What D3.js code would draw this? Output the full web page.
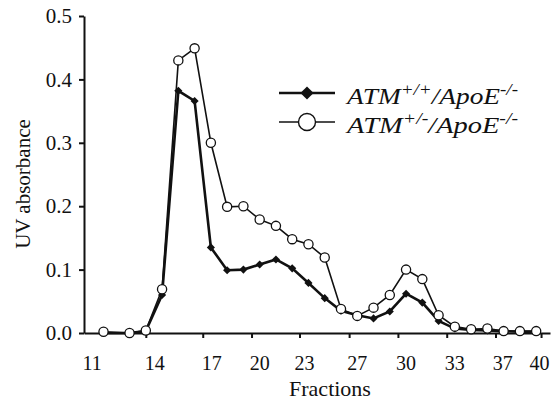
<!DOCTYPE html>
<html>
<head>
<meta charset="utf-8">
<script src="https://cdn.jsdelivr.net/npm/d3@7"></script>
<style>
  body { margin: 0; background: #fff; }
  svg text { font-family: "Times New Roman", "Liberation Serif", Times, serif; fill: #111; }
</style>
</head>
<body>
<div id="chart"></div>
<script>
// fraction numbers for each measured point
const fractions = [11.4, 13, 14, 15, 16, 17, 18, 19, 20, 21, 22, 23, 24, 25, 26,
                   27, 28, 29, 30, 31, 32, 33, 34, 35, 36, 37, 38];

// ATM+/+/ApoE-/- (filled diamonds)
const wildType = [0.0, 0.0, 0.003, 0.06, 0.382, 0.366, 0.135, 0.099, 0.100, 0.108, 0.116,
                  0.102, 0.079, 0.055, 0.035, 0.028, 0.023, 0.034, 0.062, 0.048, 0.019,
                  0.007, 0.005, 0.004, 0.003, 0.002, 0.002];

// ATM+/-/ApoE-/- (open circles)
const hetero = [0.002, 0.0, 0.004, 0.069, 0.43, 0.449, 0.300, 0.199, 0.200, 0.179, 0.169,
                0.148, 0.140, 0.119, 0.038, 0.027, 0.040, 0.060, 0.100, 0.085, 0.028,
                0.010, 0.006, 0.007, 0.003, 0.003, 0.003];

// x tick marks (in fraction units) and the printed labels
const xTickAt = [14, 17.5, 20.5, 23.45, 26.5, 29.5, 32.5, 35.5, 38.3];
const xLabels = ["11", "14", "17", "20", "23", "27", "30", "33", "37", "40"];
const xLabelAt = [10.7, 14.55, 18.05, 21.0, 23.75, 27.0, 30.0, 33.0, 35.95, 38.2];

const yTicks = [0, 0.1, 0.2, 0.3, 0.4, 0.5];

const W = 555, H = 401;
const svg = d3.select("#chart").append("svg")
    .attr("width", W).attr("height", H);

const x = d3.scaleLinear().domain([10.2, 38.85]).range([84, 550]);
const y = d3.scaleLinear().domain([0, 0.5]).range([333, 16]);

// x axis
svg.append("g")
    .attr("transform", `translate(0, ${y(0)})`)
    .call(d3.axisBottom(x).tickValues(xTickAt).tickFormat("").tickSize(5).tickSizeOuter(0))
    .call(g => g.selectAll("path, line").attr("stroke", "#111").attr("stroke-width", 2));

svg.append("g").selectAll("text")
    .data(xLabels)
    .join("text")
    .attr("x", (d, i) => x(xLabelAt[i]))
    .attr("y", 370)
    .attr("text-anchor", "middle")
    .attr("font-size", 20)
    .text(d => d);

// y axis
svg.append("g")
    .attr("transform", `translate(${x(10.2)}, 0)`)
    .call(d3.axisLeft(y).tickValues(yTicks).tickFormat(d3.format(".1f")).tickSize(5).tickSizeOuter(0).tickPadding(7))
    .call(g => g.selectAll("path, line").attr("stroke", "#111").attr("stroke-width", 2))
    .call(g => g.selectAll("text").attr("font-size", 21).attr("fill", "#111"));

// axis titles
svg.append("text")
    .attr("x", 330).attr("y", 396)
    .attr("text-anchor", "middle")
    .attr("font-size", 22)
    .text("Fractions");

svg.append("text")
    .attr("transform", `translate(30, 184) rotate(-90)`)
    .attr("text-anchor", "middle")
    .attr("font-size", 21)
    .text("UV absorbance");

const line = d3.line()
    .x((d, i) => x(fractions[i]))
    .y(d => y(d));

const diamond = d3.symbol().type(d3.symbolDiamond2).size(42);

// wild type series
svg.append("path")
    .datum(wildType)
    .attr("fill", "none")
    .attr("stroke", "#111")
    .attr("stroke-width", 2.6)
    .attr("d", line);

svg.append("g").selectAll("path")
    .data(wildType)
    .join("path")
    .attr("transform", (d, i) => `translate(${x(fractions[i])}, ${y(d)})`)
    .attr("d", diamond)
    .attr("fill", "#111");

// heterozygous series
svg.append("path")
    .datum(hetero)
    .attr("fill", "none")
    .attr("stroke", "#111")
    .attr("stroke-width", 1.6)
    .attr("d", line);

svg.append("g").selectAll("circle")
    .data(hetero)
    .join("circle")
    .attr("cx", (d, i) => x(fractions[i]))
    .attr("cy", d => y(d))
    .attr("r", 4.6)
    .attr("fill", "#fff")
    .attr("stroke", "#111")
    .attr("stroke-width", 1.3);

// legend
const legendItems = [
  {sup1: "+/+", kind: "diamond"},
  {sup1: "+/-", kind: "circle"}
];

const leg = svg.append("g").selectAll("g")
    .data(legendItems)
    .join("g")
    .attr("transform", (d, i) => `translate(0, ${93 + i * 29})`);

leg.append("line")
    .attr("x1", 279).attr("x2", 335)
    .attr("stroke", "#111")
    .attr("stroke-width", (d) => d.kind === "diamond" ? 2.4 : 1.6);

leg.filter(d => d.kind === "diamond").append("path")
    .attr("transform", "translate(307, 0)")
    .attr("d", d3.symbol().type(d3.symbolDiamond2).size(110))
    .attr("fill", "#111");

leg.filter(d => d.kind === "circle").append("circle")
    .attr("cx", 307).attr("r", 8.5)
    .attr("fill", "#fff").attr("stroke", "#111").attr("stroke-width", 1.4);

const lt = leg.append("text")
    .attr("x", 347).attr("y", 11)
    .attr("font-size", 23)
    .attr("font-style", "italic")
    .attr("textLength", 171)
    .attr("lengthAdjust", "spacingAndGlyphs");

lt.append("tspan").text("ATM");
lt.append("tspan").attr("dy", -9).attr("font-size", 16).text(d => d.sup1);
lt.append("tspan").attr("dy", 9).text("/ApoE");
lt.append("tspan").attr("dy", -9).attr("font-size", 16).text("-/-");
</script>
</body>
</html>
